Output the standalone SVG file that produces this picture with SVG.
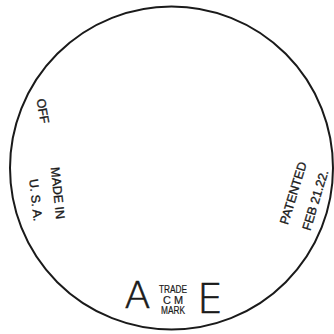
<svg xmlns="http://www.w3.org/2000/svg" width="334" height="334" viewBox="0 0 334 334">
<style>
text{font-family:"Liberation Sans","DejaVu Sans",sans-serif;fill:#1a1a1a;text-anchor:middle}
.s{font-size:12.5px;stroke:#1a1a1a;stroke-width:0.35}
.t{font-size:10px;stroke:#1a1a1a;stroke-width:0.2}
.big{font-family:"DejaVu Sans","Liberation Sans",sans-serif;font-weight:200;stroke:#1a1a1a;stroke-width:0.6}
</style>
<rect width="334" height="334" fill="#fff"/>
<g id="disc"><circle cx="171.5" cy="168" r="161.5" fill="none" stroke="#1a1a1a" stroke-width="2"/></g>
<g id="off"><text class="s" transform="translate(43,111) rotate(80)" dy="0.36em">OFF</text></g>
<g id="made"><text class="s" transform="translate(58,193) rotate(84)" dy="0.36em">MADE IN</text>
<text class="s" transform="translate(36,200) rotate(84)" dy="0.36em">U. S. A.</text></g>
<g id="patent"><text class="s" transform="translate(293,193) rotate(-73)" dy="0.36em">PATENTED</text>
<text class="s" transform="translate(315,200) rotate(-73)" dy="0.36em">FEB 21.22.</text></g>
<g id="mark">
<text class="big" x="137.5" y="294" dy="0.36em" style="font-size:38px">A</text>
<text class="big" x="210" y="298" dy="0.36em" style="font-size:41px">E</text>
<text class="t" x="173" y="289.5" dy="0.36em" textLength="28" lengthAdjust="spacingAndGlyphs">TRADE</text>
<text class="t" x="173" y="300" dy="0.36em" textLength="20" lengthAdjust="spacingAndGlyphs">C M</text>
<text class="t" x="173" y="310.5" dy="0.36em" textLength="24" lengthAdjust="spacingAndGlyphs">MARK</text>
</g>
</svg>
